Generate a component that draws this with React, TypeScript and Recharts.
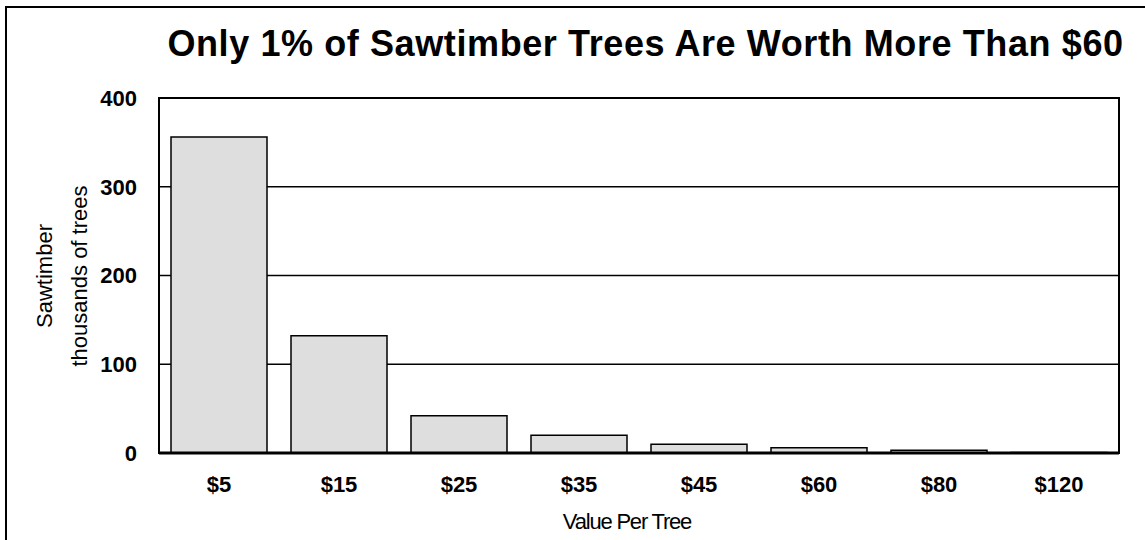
import { BarChart, Bar, XAxis, YAxis, CartesianGrid, ReferenceArea } from 'recharts';

const categories = ['$5', '$15', '$25', '$35', '$45', '$60', '$80', '$120'];
const trees = [356, 132, 42, 20, 10, 6, 3, 0.5];
const yTicks = [0, 100, 200, 300, 400];

const chartData = categories.map((name, i) => ({ name, trees: trees[i] }));

const font = '"Liberation Sans", Arial, sans-serif';

const App: React.FC = () => {
    return (
        <div
            style={{
                position: 'absolute',
                left: 0,
                top: 0,
                width: 1145,
                height: 540,
                overflow: 'hidden',
                background: '#fff',
                fontFamily: font,
            }}
        >
            <div
                style={{
                    position: 'absolute',
                    left: 5,
                    top: 6,
                    width: 1200,
                    height: 600,
                    border: '2px solid #000',
                }}
            />
            <div
                style={{
                    position: 'absolute',
                    left: 0,
                    top: 26,
                    width: 1291,
                    textAlign: 'center',
                    fontSize: 36,
                    lineHeight: '36px',
                    fontWeight: 'bold',
                    letterSpacing: 0.6,
                    whiteSpace: 'nowrap',
                }}
            >
                Only 1% of Sawtimber Trees Are Worth More Than $60
            </div>
            <div
                style={{
                    position: 'absolute',
                    left: 62,
                    top: 276,
                    transform: 'translate(-50%, -50%) rotate(-90deg)',
                    textAlign: 'center',
                    fontSize: 22,
                    lineHeight: '35px',
                    whiteSpace: 'nowrap',
                }}
            >
                Sawtimber
                <br />
                thousands of trees
            </div>
            <div
                style={{
                    position: 'absolute',
                    left: 627,
                    top: 511,
                    transform: 'translateX(-50%)',
                    fontSize: 22,
                    lineHeight: '22px',
                    letterSpacing: -1.2,
                    whiteSpace: 'nowrap',
                }}
            >
                Value Per Tree
            </div>
            <div style={{ position: 'absolute', left: 0, top: 0 }}>
                <BarChart
                    width={1145}
                    height={540}
                    data={chartData}
                    margin={{ top: 98, right: 26, bottom: 57, left: 0 }}
                    barCategoryGap='10%'
                >
                    <CartesianGrid vertical={false} stroke='#000' strokeWidth={1.3} />
                    <ReferenceArea
                        y1={0}
                        y2={400}
                        fill='none'
                        stroke='#000'
                        strokeWidth={2}
                        strokeOpacity={1}
                    />
                    <XAxis
                        dataKey='name'
                        height={30}
                        tickLine={false}
                        tickMargin={17}
                        axisLine={{ stroke: '#000', strokeWidth: 3 }}
                        tick={{ fill: '#000', fontSize: 22, fontWeight: 'bold', fontFamily: font }}
                        interval={0}
                    />
                    <YAxis
                        width={159}
                        domain={[0, 400]}
                        ticks={yTicks}
                        tickLine={false}
                        tickMargin={16}
                        axisLine={{ stroke: '#000', strokeWidth: 2 }}
                        tick={{ fill: '#000', fontSize: 22, fontWeight: 'bold', fontFamily: font }}
                    />
                    <Bar
                        dataKey='trees'
                        fill='#dedede'
                        stroke='#000'
                        strokeWidth={1.5}
                        isAnimationActive={false}
                    />
                </BarChart>
            </div>
        </div>
    );
};

export default App;
